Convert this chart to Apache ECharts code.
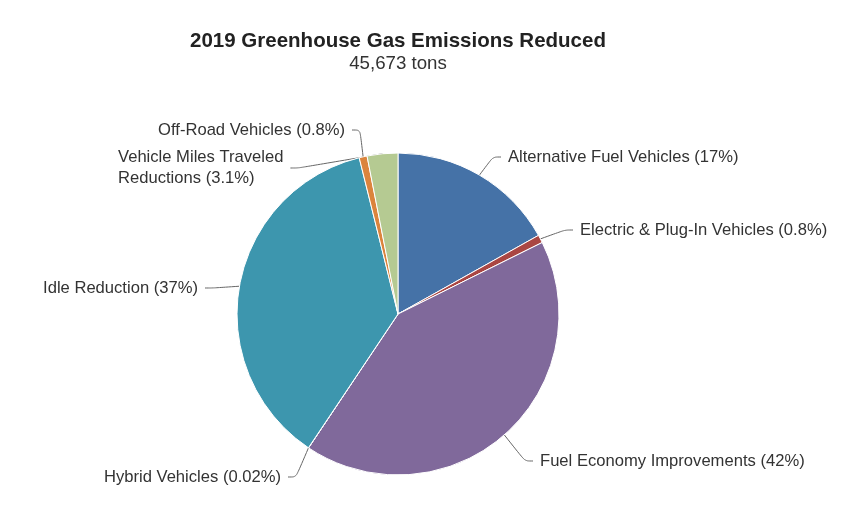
<!DOCTYPE html>
<html><head><meta charset="utf-8">
<script src="https://cdn.jsdelivr.net/npm/echarts@6/dist/echarts.min.js"></script>
<style>html,body{margin:0;padding:0;background:#fff}#c{width:862px;height:521px}</style>
</head><body><div id="c"></div>
<script>
var categories = ["Alternative Fuel Vehicles","Electric & Plug-In Vehicles","Fuel Economy Improvements","Hybrid Vehicles","Idle Reduction","Off-Road Vehicles","Vehicle Miles Traveled\nReductions"];
var values = [17, 0.8, 42, 0.02, 37, 0.8, 3.1];
var pctLabels = ["17%","0.8%","42%","0.02%","37%","0.8%","3.1%"];
var colors = ["#4572A7","#AA4643","#80699B","#89A54E","#3D96AE","#DB843D","#B5CA92"];
var titleText = "2019 Greenhouse Gas Emissions Reduced";
var subtitleText = "45,673 tons";

// label placement (layout only); padding 7 adds a gap between line end and text
var labelPlace = {
  0:{x:501,y:157,align:'left'},
  1:{x:573,y:230,align:'left'},
  2:{x:533,y:461,align:'left'},
  3:{x:288,y:477,align:'right'},
  4:{x:205,y:288,align:'right'},
  5:{x:352,y:130,align:'right'},
  6:{x:111,y:168,align:'left'}
};

var chart = echarts.init(document.getElementById('c'));
var data = categories.map(function(n,i){
  return {name:n, value:values[i], itemStyle:{color:colors[i]}};
});
chart.setOption({
  animation:false,
  title:{text:titleText, subtext:subtitleText, left:393, textAlign:'center', top:26,
    textStyle:{fontFamily:'Liberation Sans, Arial, sans-serif', fontSize:20.5, fontWeight:'bold', color:'#222222'},
    subtextStyle:{fontFamily:'Liberation Sans, Arial, sans-serif', fontSize:18.7, color:'#333333'}, itemGap:2},
  series:[{
    type:'pie', center:[398,314], radius:[0,161], startAngle:90, clockwise:true,
    avoidLabelOverlap:false,
    itemStyle:{borderColor:'#ffffff', borderWidth:1},
    label:{show:true, color:'#333333', fontSize:16.6, fontFamily:'Liberation Sans, Arial, sans-serif', lineHeight:21, padding:[0,7],
      formatter:function(p){return p.name + ' (' + pctLabels[p.dataIndex] + ')';}},
    labelLine:{show:true, length:22, length2:8, smooth:0.3, lineStyle:{color:'#666666', width:1}},
    labelLayout:function(p){
      var s = labelPlace[p.dataIndex];
      return {x:s.x, y:s.y, align:s.align, verticalAlign:'middle'};
    },
    emphasis:{disabled:true},
    data:data
  }]
});
</script></body></html>
